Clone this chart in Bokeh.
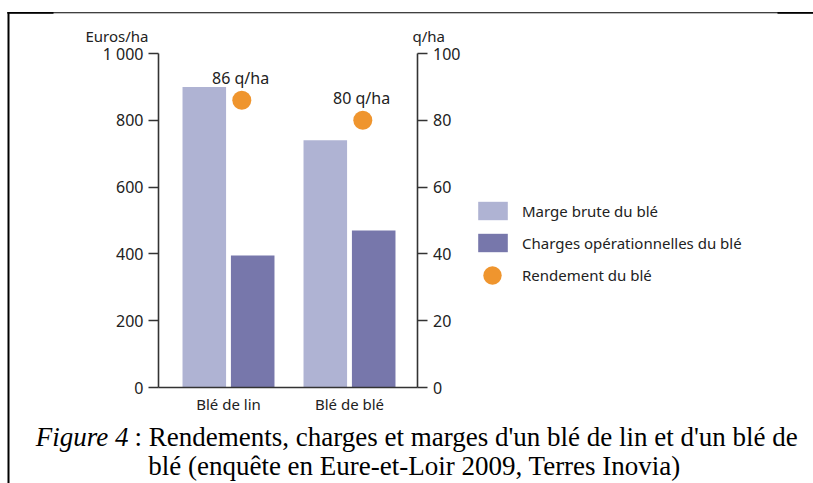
from bokeh.plotting import figure
from bokeh.models import (Range1d, LinearAxis, FixedTicker, Legend, LegendItem,
                          Label, ColumnDataSource, BoxAnnotation)
from bokeh.transform import dodge
from bokeh.core.properties import value
from bokeh.embed import file_html
from bokeh.resources import INLINE

# ---- data ----
categories = ["Blé de lin", "Blé de blé"]
cat_pos = [1, 2]
marge_brute = [900, 740]          # Euros/ha
charges_oper = [395, 470]         # Euros/ha
rendement = [86, 80]              # q/ha
left_ticks = [0, 200, 400, 600, 800, 1000]
left_tick_labels = ["0", "200", "400", "600", "800", "1 000"]
right_ticks = [0, 20, 40, 60, 80, 100]

LIGHT = "#afb3d3"
DARK = "#7777ab"
ORANGE = "#ef952e"
TXT = "#222222"
AX = "#333333"
FONT = "Noto Sans"

src = ColumnDataSource(dict(
    x=cat_pos, marge=marge_brute, charges=charges_oper, rdt=rendement,
    rdt_lbl=[f"{v} q/ha" for v in rendement],
))

W, H = 813, 483
X0, X1 = 0.4215, 2.5661   # chart area x-extent (data units)
p = figure(width=W, height=H, output_backend="svg", toolbar_location=None,
           x_range=Range1d(-0.8843, 5.8347), y_range=Range1d(-287.4, 1158.7),
           min_border=0, x_axis_location=None, y_axis_location=None)
p.extra_y_ranges = {"q": Range1d(-28.74, 115.87)}
p.outline_line_color = None
p.grid.visible = False
p.background_fill_color = "white"
p.border_fill_color = "white"

r_m = p.vbar(x=dodge("x", -0.2), top="marge", width=0.36, source=src,
             fill_color=LIGHT, line_color=None)
r_c = p.vbar(x=dodge("x", 0.2), top="charges", width=0.36, source=src,
             fill_color=DARK, line_color=None)
r_r = p.scatter(x=dodge("x", 0.11), y="rdt", y_range_name="q", size=19,
                source=src, fill_color=ORANGE, line_color=None)
p.text(x=dodge("x", 0.1), y="rdt", text="rdt_lbl", y_range_name="q",
       source=src, y_offset=-22, text_align="center", text_baseline="middle",
       text_font=value(FONT), text_font_size="16px", text_color=TXT)

def style_axis(ax):
    ax.axis_line_color = AX
    ax.axis_line_width = 1.6
    ax.major_tick_line_color = AX
    ax.major_tick_line_width = 1.6
    ax.major_tick_out = 10
    ax.major_tick_in = 0
    ax.minor_tick_line_color = None
    ax.major_label_text_font = FONT
    ax.major_label_text_font_size = "16px"
    ax.major_label_text_color = TXT
    ax.major_label_standoff = 5

yl = LinearAxis(ticker=FixedTicker(ticks=left_ticks), bounds=(0, 1000), fixed_location=X0,
                major_label_overrides={t: s for t, s in zip(left_ticks, left_tick_labels)})
style_axis(yl)
p.add_layout(yl, "left")

yr = LinearAxis(y_range_name="q", ticker=FixedTicker(ticks=right_ticks), bounds=(0, 100),
                fixed_location=X1)
style_axis(yr)
p.add_layout(yr, "right")

xb = LinearAxis(ticker=FixedTicker(ticks=cat_pos), bounds=(X0, X1), fixed_location=0,
                major_label_overrides={c: n for c, n in zip(cat_pos, categories)})
style_axis(xb)
xb.major_tick_out = 0
xb.major_tick_line_color = None
xb.major_label_standoff = 6
xb.major_label_text_font_size = "15px"
p.add_layout(xb, "below")

# axis unit titles
for txt, x in [("Euros/ha", 85), ("q/ha", 412)]:
    p.add_layout(Label(x=x, y=448, x_units="screen", y_units="screen", text=txt,
                       text_font=FONT, text_font_size="15px", text_color=TXT,
                       text_baseline="middle", text_align="left"))

# legends
leg1 = Legend(items=[LegendItem(label="Marge brute du blé", renderers=[r_m]),
                     LegendItem(label="Charges opérationnelles du blé", renderers=[r_c])],
              location=(474, 229), orientation="vertical", glyph_width=37, glyph_height=23,
              spacing=9, padding=0, margin=0, label_standoff=11,
              border_line_color=None, background_fill_alpha=0,
              label_text_font=FONT, label_text_font_size="15px", label_text_color=TXT)
leg2 = Legend(items=[LegendItem(label="Rendement du blé", renderers=[r_r])],
              location=(469, 185), glyph_width=46, glyph_height=46,
              padding=0, margin=0, label_standoff=7,
              border_line_color=None, background_fill_alpha=0,
              label_text_font=FONT, label_text_font_size="15px", label_text_color=TXT)
p.add_layout(leg1, "center")
p.add_layout(leg2, "center")

# caption
cap_font = "Liberation Serif"
CAP = "27px"
p.add_layout(Label(x=128, y=47, x_units="screen", y_units="screen", text="Figure 4",
                   text_font=cap_font, text_font_style="italic", text_font_size=CAP,
                   text_color="black", text_baseline="alphabetic", text_align="right"))
p.add_layout(Label(x=134, y=47, x_units="screen", y_units="screen",
                   text=": Rendements, charges et marges d'un blé de lin et d'un blé de",
                   text_font=cap_font, text_font_size=CAP,
                   text_color="black", text_baseline="alphabetic", text_align="left"))
p.add_layout(Label(x=414, y=18, x_units="screen", y_units="screen",
                   text="blé (enquête en Eure-et-Loir 2009, Terres Inovia)",
                   text_font=cap_font, text_font_size=CAP,
                   text_color="black", text_baseline="alphabetic", text_align="center"))

# document frame lines
def sbox(l, r, t, b):
    return BoxAnnotation(left=l, right=r, top=t, bottom=b,
                         left_units="screen", right_units="screen",
                         top_units="screen", bottom_units="screen",
                         fill_color="black", fill_alpha=1, line_color=None)
p.add_layout(sbox(7, W, 471.3, 470.3))
p.add_layout(sbox(7, 53, 471.5, 469.7))
p.add_layout(sbox(777, W, 471.5, 469.7))
p.add_layout(sbox(7, 9, 471.5, 0))

open("out.html", "w").write(file_html(p, INLINE))
